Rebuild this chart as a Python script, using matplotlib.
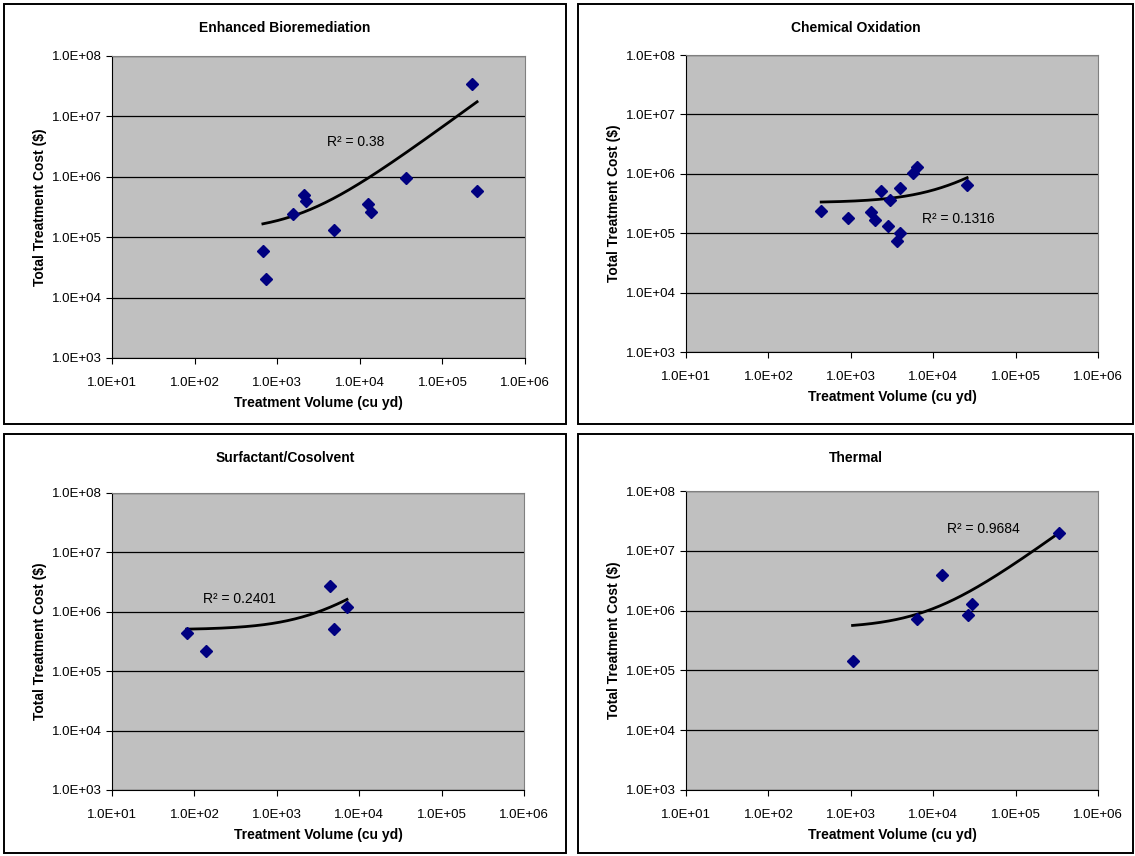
import numpy as np
import matplotlib
matplotlib.use("Agg")
import matplotlib.pyplot as plt
from matplotlib.patches import Rectangle
from matplotlib.ticker import FuncFormatter, FixedLocator, NullLocator

plt.rcParams['font.family'] = ['Liberation Sans', 'DejaVu Sans']

# data (treatment volume in cu yd, total cost in $)
bio_vol = [671, 723, 1550, 2140, 2240, 4840, 12500, 13700, 36300, 226000, 263000]
bio_cost = [6.0e4, 2.03e4, 2.4e5, 5.0e5, 3.9e5, 1.32e5, 3.56e5, 2.6e5, 9.7e5, 3.5e7, 5.85e5]

chem_vol = [437, 912, 1750, 1980, 2340, 3030, 2840, 3940, 3940, 3660, 5710, 6390, 25800]
chem_cost = [2.37e5, 1.78e5, 2.27e5, 1.67e5, 5.13e5, 3.57e5, 1.34e5, 5.77e5, 1.01e5, 7.3e4,
             1.03e6, 1.30e6, 6.4e5]

surf_vol = [80.5, 140, 4380, 4950, 7110]
surf_cost = [4.43e5, 2.23e5, 2.73e6, 5.04e5, 1.21e6]

therm_vol = [1050, 6320, 12800, 26800, 29700, 333000]
therm_cost = [1.41e5, 7.2e5, 3.87e6, 8.5e5, 1.28e6, 1.98e7]

titles = ["Enhanced Bioremediation", "Chemical Oxidation", "Surfactant/Cosolvent", "Thermal"]
r2_labels = ["R\u00b2 = 0.38", "R\u00b2 = 0.1316", "R\u00b2 = 0.2401", "R\u00b2 = 0.9684"]
r2_pos = [(4.0e3, 3.7e6), (7.4e3, 1.73e5), (127, 1.67e6), (1.49e4, 2.31e7)]

W, H = 1135, 856
fig = plt.figure(figsize=(W / 100, H / 100), dpi=100)


def fbox(l, t, r, b):
    return [l / W, 1 - b / H, (r - l) / W, (b - t) / H]


# outer chart frames (left, top, right, bottom in px)
frames = [(4, 4, 566, 424), (578, 4, 1133, 424), (4, 434, 566, 853), (578, 434, 1133, 853)]
plots = [(112, 56, 525, 358), (686, 55, 1098, 352), (112, 493, 524, 790), (686, 491, 1098, 790)]

series = [(bio_vol, bio_cost), (chem_vol, chem_cost), (surf_vol, surf_cost), (therm_vol, therm_cost)]

for i in range(4):
    l, t, r, b = frames[i]
    fig.patches.append(Rectangle((l / W, 1 - b / H), (r - l) / W, (b - t) / H,
                                 transform=fig.transFigure, fill=False,
                                 edgecolor='black', linewidth=1.4))
    fig.text((l + r) / 2 / W, 1 - (t + 24) / H, titles[i], ha='center', va='center',
             fontsize=10, fontweight='bold')

    ax = fig.add_axes(fbox(*plots[i]))
    ax.set_facecolor('#c0c0c0')
    ax.set_xscale('log')
    ax.set_yscale('log')
    ax.set_xlim(1e1, 1e6)
    ax.set_ylim(1e3, 1e8)
    ax.xaxis.set_major_locator(FixedLocator([1e1, 1e2, 1e3, 1e4, 1e5, 1e6]))
    ax.yaxis.set_major_locator(FixedLocator([1e3, 1e4, 1e5, 1e6, 1e7, 1e8]))
    ax.xaxis.set_minor_locator(NullLocator())
    ax.yaxis.set_minor_locator(NullLocator())
    fmt = FuncFormatter(lambda v, p: "%.1E" % v)
    ax.xaxis.set_major_formatter(fmt)
    ax.yaxis.set_major_formatter(fmt)
    ax.tick_params(direction='out', length=4, width=0.8, labelsize=9.5, pad=10)
    ax.tick_params(axis='y', pad=3)
    ax.grid(axis='y', color='black', linewidth=0.9)
    ax.set_axisbelow(True)
    for s in ['top', 'right']:
        ax.spines[s].set_color('#808080')
    for s in ['left', 'bottom']:
        ax.spines[s].set_color('black')

    x = np.array(series[i][0], dtype=float)
    y = np.array(series[i][1], dtype=float)
    # excel style linear trendline
    k, c = np.polyfit(x, y, 1)
    xs = np.geomspace(x.min(), x.max(), 200)
    ax.plot(xs, k * xs + c, color='black', linewidth=2)
    ax.plot(x, y, linestyle='none', marker='D', markersize=6,
            color='#000080', markeredgecolor='#000080')

    ax.text(r2_pos[i][0], r2_pos[i][1], r2_labels[i], fontsize=10, va='center', ha='left')

    ax.set_xlabel("Treatment Volume (cu yd)", fontsize=10, fontweight='bold', labelpad=5)
    ax.set_ylabel("Total Treatment Cost ($)", fontsize=10, fontweight='bold', labelpad=4)

fig.savefig("out.png", dpi=100)
